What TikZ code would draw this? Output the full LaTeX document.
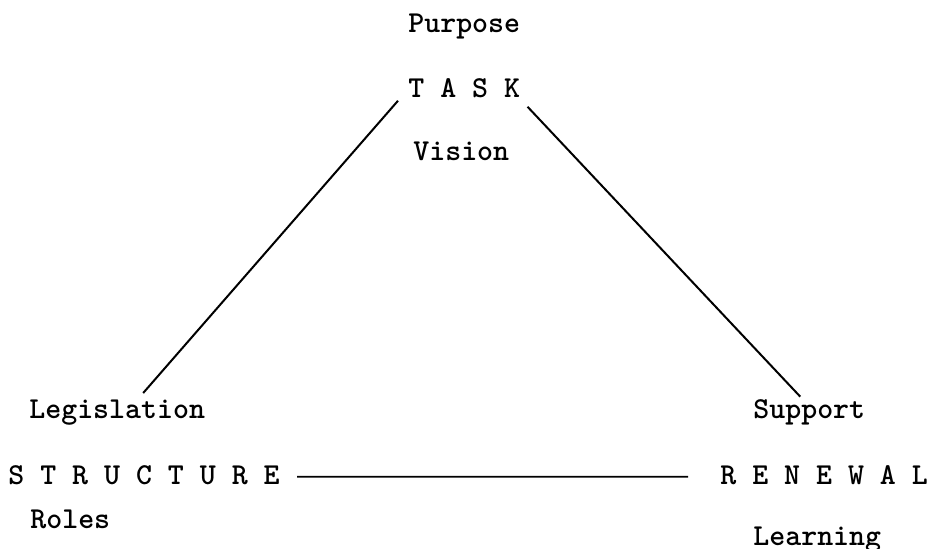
\documentclass[tikz,border=0pt]{standalone}
\tikzset{
  word/.style={font=\ttfamily\bfseries\fontsize{15.2}{18}\selectfont,inner sep=0pt,anchor=base west},
  link/.style={line width=1pt}
}
\begin{document}
\begin{tikzpicture}[x=0.5pt,y=-0.5pt]
  \useasboundingbox (0,0) rectangle (930,549);
  % Top corner
  \node[word] (purpose) at (408,33) {Purpose};
  \node[word] (task) at (408,98) {T A S K};
  \node[word] (vision) at (413,161) {Vision};
  % Left corner
  \node[word] (legis) at (29,418) {Legislation};
  \node[word] (structure) at (8,484) {S T R U C T U R E};
  \node[word] (roles) at (30,528) {Roles};
  % Right corner
  \node[word] (support) at (753,418) {Support};
  \node[word] (renewal) at (720,484) {R E N E W A L};
  \node[word] (learning) at (753,545) {Learning};
  % Sides of the triangle
  \draw[link] ([shift={(-10,2)}]task.south west) -- ([shift={(26,-6)}]legis.north);
  \draw[link] ([shift={(7,8)}]task.south east) -- ([shift={(-9,-2)}]support.north);
  \draw[line width=0.9pt] ([shift={(17,2)}]structure.east) -- ([shift={(-32,2)}]renewal.west);
\end{tikzpicture}
\end{document}
